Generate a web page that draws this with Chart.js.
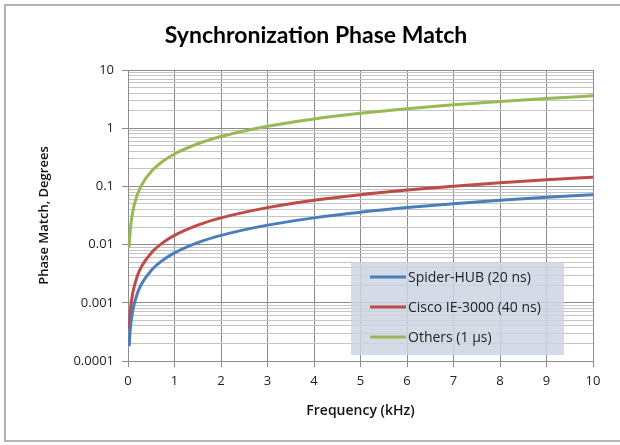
<!DOCTYPE html>
<html>
<head>
<meta charset="utf-8">
<script src="https://cdn.jsdelivr.net/npm/chart.js@4/dist/chart.umd.min.js"></script>
<style>
  html, body { margin: 0; padding: 0; background: #fff; }
  #wrap { width: 620px; height: 445px; position: relative; }
</style>
</head>
<body>
<div id="wrap"><canvas id="phaseChart"></canvas></div>
<script>
// values (kHz -> degrees)
const freqKHz   = [0.025, 0.05, 0.1, 0.2, 0.3, 0.5, 0.75, 1, 1.5, 2, 3, 4, 5, 6, 7, 8, 9, 10];
const spiderHub = [0.00018, 0.00036, 0.00072, 0.00144, 0.00216, 0.0036, 0.0054, 0.0072, 0.0108, 0.0144, 0.0216, 0.0288, 0.036, 0.0432, 0.0504, 0.0576, 0.0648, 0.072];
const ciscoIE   = [0.00036, 0.00072, 0.00144, 0.00288, 0.00432, 0.0072, 0.0108, 0.0144, 0.0216, 0.0288, 0.0432, 0.0576, 0.072, 0.0864, 0.1008, 0.1152, 0.1296, 0.144];
const others    = [0.009, 0.018, 0.036, 0.072, 0.108, 0.18, 0.27, 0.36, 0.54, 0.72, 1.08, 1.44, 1.8, 2.16, 2.52, 2.88, 3.24, 3.6];

const seriesNames = ["Spider-HUB (20 ns)", "Cisco IE-3000 (40 ns)", "Others (1 \u00b5s)"];
const seriesColors = ["#4a7ebb", "#be4b48", "#98b954"];
const yTicks = [0.0001, 0.001, 0.01, 0.1, 1, 10];

const FONT = "'Open Sans', 'DejaVu Sans', sans-serif";
const TITLE_FONT = "Lato, 'Open Sans', sans-serif";

function toPoints(vals) {
  return freqKHz.map((f, i) => ({ x: f, y: vals[i] }));
}

// frame, title and legend box, drawn by hand like the Excel original
const decorations = {
  id: "decorations",
  beforeDraw(chart) {
    const c = chart.ctx;
    c.save();
    c.strokeStyle = "#b4b4b4";
    c.lineWidth = 2;
    c.strokeRect(5, 5, 640, 436);
    c.restore();
  },
  afterDatasetsDraw(chart) {
    const c = chart.ctx;
    c.save();
    c.fillStyle = "#000";
    c.font = "bold 23px " + TITLE_FONT;
    c.textAlign = "center";
    c.textBaseline = "middle";
    c.fillText("Synchronization Phase Match", 316, 36);

    // legend box
    c.fillStyle = "rgba(205, 213, 226, 0.85)";
    c.fillRect(351, 262, 213, 93);
    c.font = "14px " + FONT;
    c.textAlign = "left";
    chart.data.datasets.forEach((ds, i) => {
      const y = 277 + i * 30;
      c.strokeStyle = ds.borderColor;
      c.lineWidth = 3;
      c.beginPath();
      c.moveTo(370, y);
      c.lineTo(406, y);
      c.stroke();
      c.fillStyle = "#222";
      c.fillText(ds.label, 408, y + 1);
    });
    c.restore();
  }
};

const ctx = document.getElementById("phaseChart").getContext("2d");
const myChart = new Chart(ctx, {
  type: "line",
  data: {
    datasets: [0, 1, 2].map(i => ({
      label: seriesNames[i],
      data: toPoints([spiderHub, ciscoIE, others][i]),
      borderColor: seriesColors[i],
      backgroundColor: seriesColors[i],
      borderWidth: 3,
      pointRadius: 0,
      fill: false,
      cubicInterpolationMode: "monotone"
    }))
  },
  options: {
    responsive: true,
    maintainAspectRatio: false,
    animation: false,
    layout: { padding: { left: 36, right: 27, top: 70, bottom: 26 } },
    plugins: {
      legend: { display: false },
      title: { display: false },
      tooltip: { enabled: false }
    },
    scales: {
      x: {
        type: "linear",
        min: 0,
        max: 10,
        ticks: {
          stepSize: 1,
          color: "#222",
          padding: 6,
          font: { family: FONT, size: 13 }
        },
        grid: {
          color: "#8c8c8c",
          lineWidth: 1,
          tickLength: 6,
          tickColor: "#8c8c8c"
        },
        border: { color: "#8c8c8c" },
        title: {
          display: true,
          text: "Frequency (kHz)",
          color: "#111",
          font: { family: FONT, size: 14, weight: "600" },
          padding: { top: 6, bottom: 0 }
        },
        afterFit(scale) { scale.height = 58; }
      },
      y: {
        type: "logarithmic",
        min: 0.0001,
        max: 10,
        afterBuildTicks(scale) {
          const ticks = [];
          for (let d = 0.0001; d < 9; d *= 10) {
            for (let k = 1; k <= 9; k++) ticks.push({ value: +(d * k).toPrecision(3), major: k === 1 });
          }
          ticks.push({ value: 10, major: true });
          scale.ticks = ticks;
        },
        ticks: {
          autoSkip: false,
          color: "#222",
          padding: 8,
          font: { family: FONT, size: 13 },
          callback(value) {
            return yTicks.some(t => Math.abs(t - value) / t < 1e-6) ? String(value) : "";
          }
        },
        grid: {
          color(ctx) { return ctx.tick && ctx.tick.major ? "#8c8c8c" : "#c4c4c4"; },
          tickColor(ctx) { return ctx.tick && ctx.tick.major ? "#8c8c8c" : "rgba(0,0,0,0)"; },
          lineWidth: 1,
          tickLength: 6
        },
        border: { color: "#8c8c8c" },
        title: {
          display: true,
          text: "Phase Match, Degrees",
          color: "#111",
          font: { family: FONT, size: 13, weight: "600" },
          padding: { top: 0, bottom: 6 }
        },
        afterFit(scale) { scale.width = 92; }
      }
    }
  },
  plugins: [decorations]
});
</script>
</body>
</html>
